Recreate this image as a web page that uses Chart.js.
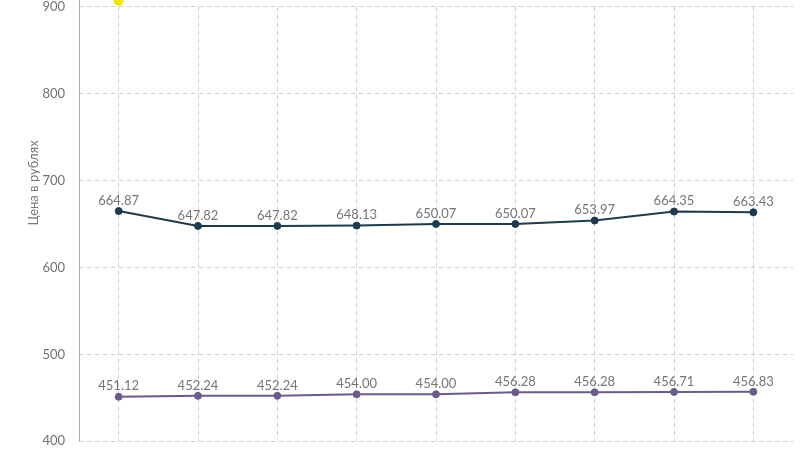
<!DOCTYPE html>
<html>
<head>
<meta charset="utf-8">
<script src="https://cdn.jsdelivr.net/npm/chart.js@4.4.0/dist/chart.umd.min.js"></script>
<style>
  html, body { margin: 0; padding: 0; background: #fff; overflow: hidden; }
  #view { position: relative; width: 800px; height: 450px; overflow: hidden; }
  #wrap { position: absolute; left: 0; top: -15px; width: 800px; height: 478px; }
</style>
</head>
<body>
<div id="view"><div id="wrap"><canvas id="priceChart"></canvas></div></div>
<script>
// categories (x labels are cut off in the reference)
const labels = ['1', '2', '3', '4', '5', '6', '7', '8', '9'];
const darkSeries = [664.87, 647.82, 647.82, 648.13, 650.07, 650.07, 653.97, 664.35, 663.43];
const purpleSeries = [451.12, 452.24, 452.24, 454.00, 454.00, 456.28, 456.28, 456.71, 456.83];
const yellowSeries = [907, null, null, null, null, null, null, null, null];
const yTicks = [400, 500, 600, 700, 800, 900];
const yTitle = 'Цена в рублях';

// value labels above points
const valueLabels = {
    id: 'valueLabels',
    afterDatasetsDraw(chart) {
        const ctx = chart.ctx;
        ctx.save();
        ctx.font = '13px Lato, sans-serif';
        ctx.fillStyle = '#757575';
        ctx.textAlign = 'center';
        ctx.textBaseline = 'bottom';
        chart.data.datasets.forEach((ds, i) => {
            if (!ds.showValues) return;
            chart.getDatasetMeta(i).data.forEach((pt, j) => {
                const v = ds.data[j];
                if (v == null) return;
                ctx.fillText(v.toFixed(2), pt.x, pt.y - 4);
            });
        });
        ctx.restore();
    }
};

// points that sit above the plot area (chart.js skips them), drawn through the scales
const outsidePoints = {
    id: 'outsidePoints',
    afterDatasetsDraw(chart) {
        const ctx = chart.ctx;
        const xs = chart.scales.x, ys = chart.scales.y;
        chart.data.datasets.forEach(ds => {
            if (!ds.drawOutside) return;
            ds.data.forEach((v, j) => {
                if (v == null) return;
                ctx.save();
                ctx.fillStyle = ds.backgroundColor;
                ctx.beginPath();
                ctx.arc(xs.getPixelForValue(j), ys.getPixelForValue(v), ds.pointRadius, 0, Math.PI * 2);
                ctx.fill();
                ctx.restore();
            });
        });
    }
};

// axis title and solid axis line drawn by hand
const axisExtras = {
    id: 'axisExtras',
    afterDraw(chart) {
        const ctx = chart.ctx;
        const area = chart.chartArea;
        ctx.save();
        ctx.strokeStyle = '#aaaaaa';
        ctx.lineWidth = 1;
        ctx.beginPath();
        ctx.moveTo(area.left + 0.5, 0);
        ctx.lineTo(area.left + 0.5, area.bottom);
        ctx.stroke();

        ctx.translate(34, 198);
        ctx.rotate(-Math.PI / 2);
        ctx.font = '13px Lato, sans-serif';
        ctx.fillStyle = '#777';
        ctx.textAlign = 'center';
        ctx.textBaseline = 'middle';
        ctx.fillText(yTitle, 0, 0);
        ctx.restore();
    }
};

const ctx = document.getElementById('priceChart').getContext('2d');
new Chart(ctx, {
    type: 'line',
    data: {
        labels: labels,
        datasets: [
            {
                data: yellowSeries,
                borderColor: '#f5e800',
                backgroundColor: '#f5e800',
                pointRadius: 5,
                borderWidth: 2,
                drawOutside: true
            },
            {
                data: darkSeries,
                borderColor: '#1e3a4e',
                backgroundColor: '#1e3a4e',
                pointRadius: 3.5,
                pointBorderWidth: 1,
                borderWidth: 2,
                tension: 0,
                showValues: true
            },
            {
                data: purpleSeries,
                borderColor: '#6d5a8c',
                backgroundColor: '#6d5a8c',
                pointRadius: 3.5,
                pointBorderWidth: 1,
                borderWidth: 2,
                tension: 0,
                showValues: true
            }
        ]
    },
    options: {
        responsive: true,
        maintainAspectRatio: false,
        animation: false,
        layout: { padding: { top: 0, bottom: 0, left: 0, right: 3 } },
        plugins: {
            legend: { display: false },
            tooltip: { enabled: false }
        },
        scales: {
            x: {
                offset: true,
                ticks: { display: false },
                grid: {
                    offset: false,
                    color: '#cccccc',
                    drawTicks: false
                },
                border: { display: false, dash: [4, 4] }
            },
            y: {
                min: 400,
                max: 900,
                afterBuildTicks: scale => { scale.ticks = yTicks.map(v => ({ value: v })); },
                afterFit: scale => { scale.width = 79; },
                ticks: {
                    color: '#707070',
                    font: { family: 'Lato, sans-serif', size: 13 },
                    padding: 14
                },
                grid: { color: '#cccccc', drawTicks: false },
                border: { display: false, dash: [4, 4] }
            }
        }
    },
    plugins: [valueLabels, outsidePoints, axisExtras]
});
</script>
</body>
</html>
